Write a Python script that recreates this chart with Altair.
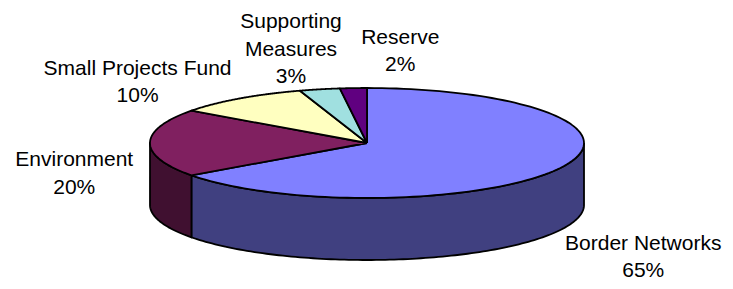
import altair as alt
import pandas as pd

# ---- data ----
categories = ["Border Networks", "Environment", "Small Projects Fund", "Supporting Measures", "Reserve"]
shares = [65, 20, 10, 3, 2]
label_lines = ["Border Networks", "Environment", "Small Projects Fund", "Supporting\nMeasures", "Reserve"]

# ---- styles ----
top_colors = ["#8080FF", "#802060", "#FFFFC0", "#A0E0E0", "#600080"]
side_colors = ["#404080", "#401030", "#808060", "#507070", "#300040"]

# ---- layout (plot-area pixels) ----
W, H = 717, 273
CX, CY, RX, RY, DEPTH = 359, 135, 217, 55, 62
N = 120
FONT = 21
LH = 27.5
STROKE_W = 1.8

df = pd.DataFrame({
    "category": categories,
    "share": shares,
    "idx": list(range(len(categories))),
    "label": [f"{l}\n{s}%" for l, s in zip(label_lines, shares)],
})
df["n_lines"] = df["label"].str.count("\n") + 1
df["max_len"] = df["label"].apply(lambda s: max(len(x) for x in s.split("\n")))

xs = alt.X("x:Q", scale=alt.Scale(domain=[0, W], nice=False, zero=False), axis=None)
ys = alt.Y("y:Q", scale=alt.Scale(domain=[0, H], nice=False, zero=False, reverse=True), axis=None)

base = (
    alt.Chart(df)
    .transform_joinaggregate(total="sum(share)")
    .transform_window(cum="sum(share)", sort=[alt.SortField("idx")], frame=[None, 0])
    .transform_calculate(a0="(datum.cum - datum.share) / datum.total * 2 * PI")
    .transform_calculate(a1="datum.cum / datum.total * 2 * PI")
)

# side walls (front half only: angles between PI/2 and 3PI/2, clockwise from top)
side = (
    base.transform_calculate(s0="max(datum.a0, PI / 2)")
    .transform_calculate(s1="min(datum.a1, 3 * PI / 2)")
    .transform_filter("datum.s1 > datum.s0")
    .transform_calculate(steps=f"sequence(0, {2 * N + 3})")
    .transform_flatten(["steps"], as_=["i"])
    .transform_calculate(
        t=f"datum.i <= {N} ? datum.s0 + (datum.s1 - datum.s0) * datum.i / {N} : "
          f"(datum.i <= {2 * N + 1} ? datum.s1 - (datum.s1 - datum.s0) * (datum.i - {N + 1}) / {N} : datum.s0)"
    )
    .transform_calculate(x=f"{CX} + {RX} * sin(datum.t)")
    .transform_calculate(
        y=f"{CY} - {RY} * cos(datum.t) + ((datum.i > {N} && datum.i <= {2 * N + 1}) ? {DEPTH} : 0)"
    )
    .mark_line(stroke="black", strokeWidth=STROKE_W, strokeJoin="round")
    .encode(
        x=xs, y=ys,
        order=alt.Order("i:Q"),
        detail="category:N",
        fill=alt.Fill("category:N", scale=alt.Scale(domain=categories, range=side_colors), legend=None),
    )
)

# top face slices
top = (
    base.transform_calculate(steps=f"sequence(-1, {N + 2})")
    .transform_flatten(["steps"], as_=["i"])
    .transform_calculate(t=f"datum.a0 + (datum.a1 - datum.a0) * clamp(datum.i, 0, {N}) / {N}")
    .transform_calculate(x=f"(datum.i < 0 || datum.i > {N}) ? {CX} : {CX} + {RX} * sin(datum.t)")
    .transform_calculate(y=f"(datum.i < 0 || datum.i > {N}) ? {CY} : {CY} - {RY} * cos(datum.t)")
    .mark_line(stroke="black", strokeWidth=STROKE_W, strokeJoin="round")
    .encode(
        x=xs, y=ys,
        order=alt.Order("i:Q"),
        detail="category:N",
        fill=alt.Fill("category:N", scale=alt.Scale(domain=categories, range=top_colors), legend=None),
    )
)

# labels placed just outside the pie at each slice's mid-angle, nudged to avoid overlaps
labels = (
    base.transform_calculate(m="(datum.a0 + datum.a1) / 2")
    .transform_calculate(px=f"{CX} + {RX} * sin(datum.m)")
    .transform_calculate(py=f"{CY} - {RY} * cos(datum.m) + {DEPTH} * clamp(0.5 - 1.7 * cos(datum.m), 0, 1)")
    .transform_calculate(hw=f"datum.max_len * {FONT} * 0.25")
    .transform_calculate(hh=f"datum.n_lines * {LH} / 2")
    .transform_calculate(fx="clamp(2.5 * sin(datum.m), -1, 1)")
    .transform_calculate(fy="cos(datum.m) > 0 ? -pow(cos(datum.m), 4) : clamp(-3 * cos(datum.m), 0, 1)")
    .transform_calculate(bx="datum.px + (18 * pow(abs(sin(datum.m)), 4) + datum.hw) * datum.fx")
    .transform_calculate(
        by=f"min(datum.py + (cos(datum.m) > 0 ? 24 + 0.47 * datum.hh : 10 + datum.hh) * datum.fy, "
           f"{H} - datum.hh + 4)"
    )
    .transform_calculate(right="datum.bx + datum.hw")
    .transform_window(prev_right="lag(right)", prev_y="lag(by)", prev_hh="lag(hh)",
                      sort=[alt.SortField("idx")])
    .transform_calculate(
        nx="(datum.prev_right != null && datum.bx - datum.hw < datum.prev_right && "
           "abs(datum.by - datum.prev_y) < datum.hh + datum.prev_hh) ? "
           "datum.prev_right + 20 + datum.hw : datum.bx"
    )
    .transform_calculate(x=f"min(datum.nx, {W} - datum.hw - 3)")
    .transform_calculate(y=f"datum.by - (datum.n_lines - 1) * {LH} / 2")
    .mark_text(font="Liberation Sans", fontSize=FONT, lineBreak="\n", lineHeight=LH,
               align="center", baseline="middle", color="black")
    .encode(x=xs, y=ys, text="label:N")
)

chart = (
    alt.layer(side, top, labels)
    .resolve_scale(fill="independent")
    .properties(width=W, height=H, padding=0, autosize=alt.AutoSizeParams(type="none"))
    .configure_view(stroke=None)
)

chart.save("out.html", embed_options={"renderer": "svg", "actions": False})
